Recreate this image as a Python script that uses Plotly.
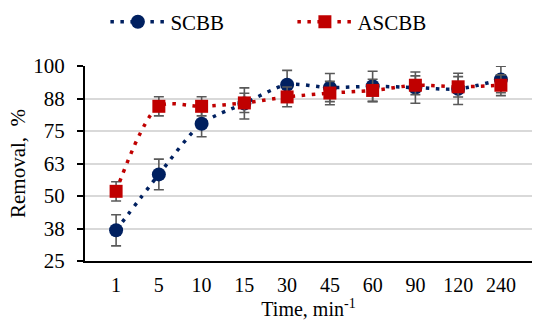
import plotly.graph_objects as go

times = ["1", "5", "10", "15", "30", "45", "60", "90", "120", "240"]
scbb = [36.8, 58.3, 77.8, 85.6, 92.8, 91.7, 92.2, 91.7, 91.2, 94.8]
scbb_err = [6.0, 5.9, 5.0, 6.0, 5.5, 5.4, 5.8, 6.0, 6.0, 5.1]
ascbb = [51.8, 84.5, 84.5, 85.8, 88.1, 89.6, 90.6, 92.6, 92.0, 92.6]
ascbb_err = [3.7, 3.7, 3.7, 3.7, 3.8, 4.5, 4.3, 3.6, 3.9, 4.0]
y_ticks = [25, 37.5, 50, 62.5, 75, 87.5, 100]
y_labels = ["25", "38", "50", "63", "75", "88", "100"]

FONT = "Liberation Serif, Times New Roman, serif"
ERR_COLOR = "#595959"
DASH = "3.5px,6.5px"

fig = go.Figure()
fig.add_trace(go.Scatter(
    x=times, y=scbb, name="SCBB", mode="lines+markers",
    line=dict(color="#002060", width=3.5, dash=DASH, shape="spline", smoothing=0.8),
    marker=dict(symbol="circle", size=14, color="#002060"),
    error_y=dict(type="data", array=scbb_err, color=ERR_COLOR, thickness=1.6, width=5),
))
fig.add_trace(go.Scatter(
    x=times, y=ascbb, name="ASCBB", mode="lines+markers",
    line=dict(color="#C00000", width=3.5, dash=DASH, shape="spline", smoothing=0.8),
    marker=dict(symbol="square", size=13, color="#C00000"),
    error_y=dict(type="data", array=ascbb_err, color=ERR_COLOR, thickness=1.6, width=5),
))

fig.update_layout(
    width=535, height=325,
    margin=dict(l=85, r=3, t=66, b=64),
    paper_bgcolor="white", plot_bgcolor="white",
    font=dict(family=FONT, size=21, color="#000000"),
    showlegend=True,
    legend=dict(orientation="h", xref="container", x=0.197, xanchor="left",
                y=0.995, yanchor="top", yref="container",
                font=dict(size=21), itemwidth=55, entrywidth=117,
                bgcolor="rgba(0,0,0,0)"),
    xaxis=dict(
        type="category", categoryorder="array", categoryarray=times,
        showline=True, linecolor="#000000", linewidth=2,
        showgrid=False, ticks="", tickfont=dict(size=20), ticklabelstandoff=5,
        title=dict(text="Time, min<sup>-1</sup>", font=dict(size=20), standoff=2),
    ),
    yaxis=dict(
        range=[25, 100], tickvals=y_ticks, ticktext=y_labels,
        showline=True, linecolor="#000000", linewidth=2,
        ticks="outside", ticklen=6, tickcolor="#000000", tickwidth=1.5,
        showgrid=True, gridcolor="#d9d9d9", gridwidth=1.5,
        zeroline=False, tickfont=dict(size=21), ticklabelstandoff=8,
        title=dict(text="Removal,  %", font=dict(size=21), standoff=2),
    ),
)

fig.write_html("out.html")
